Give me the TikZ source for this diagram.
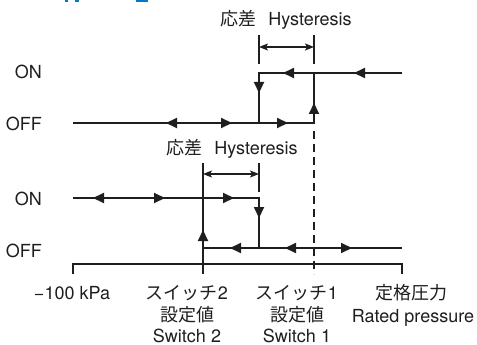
\documentclass[tikz,border=0pt]{standalone}
\usepackage{fontspec}
\setmainfont{TeX Gyre Heros}
\newfontfamily\jp{Noto Sans CJK JP}
\usetikzlibrary{arrows.meta}
\definecolor{ink}{RGB}{30,30,30}
\definecolor{titleblue}{RGB}{0,122,200}
\begin{document}
\begin{tikzpicture}[x=1pt,y=-1pt,
  main/.style={line width=2pt, draw=ink, line join=miter},
  guide/.style={line width=1.2pt, draw=ink},
  tri/.style={main, -{Triangle[length=11pt,width=10pt]}},
  span/.style={guide, {Stealth[length=9pt,width=7pt,inset=2pt]}-{Stealth[length=9pt,width=7pt,inset=2pt]}},
  lab/.style={inner sep=0pt, text=ink, font=\fontsize{18}{22}\selectfont}]
\useasboundingbox (0,0) rectangle (477,345);
% cut-off title fragments
\fill[titleblue] (65,0) rectangle (68,2.5);
\fill[titleblue] (75,0) rectangle (79,2.5);
\fill[titleblue] (136,0) rectangle (148,2.5);

% ---------- switch 1 (top) ----------
\coordinate (a0) at (73,123);
\coordinate (a1) at (259,123);
\coordinate (a2) at (314,123);
\coordinate (a3) at (259,73);
\coordinate (a4) at (314,73);
\coordinate (a5) at (402,73);
\draw[main] (a0) -- (a2) -- (a4);
\draw[main] (a1) -- (a3) -- (a5);
% arrows top
\draw[tri] (177,123) -- (166,123);
\draw[tri] (221,123) -- (232,123);
\draw[tri] (277,123) -- (288,123);
\draw[tri] (294,73) -- (283,73);
\draw[tri] (365,73) -- (354,73);
\draw[tri] (259,82) -- (259,93);
\draw[tri] (314,114) -- (314,103);
% hysteresis bracket top
\coordinate (ha0) at (259,35); \coordinate (ha1) at (259,64);
\coordinate (hb0) at (314,35); \coordinate (hb1) at (314,64);
\draw[guide] (ha0) -- (ha1);
\draw[guide] (hb0) -- (hb1);
\coordinate (hs0) at (259,47); \coordinate (hs1) at (314,47);
\draw[span] (hs0) -- (hs1);
\node[lab, anchor=base] (hl1) at (286,26) {{\jp 応差}\hspace{12pt}Hysteresis};

% ---------- switch 2 (middle) ----------
\coordinate (b0) at (73,198);
\coordinate (b1) at (203,198);
\coordinate (b2) at (259,198);
\coordinate (b3) at (203,248);
\coordinate (b4) at (259,248);
\coordinate (b5) at (402,248);
\draw[main] (b0) -- (b2) -- (b4);
\draw[main] (b1) -- (b3) -- (b5);
% arrows middle
\draw[tri] (104,198) -- (93,198);
\draw[tri] (154,198) -- (165,198);
\draw[tri] (223,198) -- (234,198);
\draw[tri] (259,207) -- (259,218);
\draw[tri] (203,241) -- (203,230);
\draw[tri] (241,248) -- (230,248);
\draw[tri] (296,248) -- (285,248);
\draw[tri] (341,248) -- (352,248);
% hysteresis bracket middle
\coordinate (hc0) at (203,163); \coordinate (hc1) at (203,274);
\coordinate (hd0) at (259,163); \coordinate (hd1) at (259,192);
\draw[guide] (hc0) -- (hc1);
\draw[guide] (hd0) -- (hd1);
\coordinate (ht0) at (203,174); \coordinate (ht1) at (259,174);
\draw[span] (ht0) -- (ht1);
\node[lab, anchor=base] (hl2) at (232,154) {{\jp 応差}\hspace{12pt}Hysteresis};

% dashed set point line of switch 1
\coordinate (d0) at (314,131); \coordinate (d1) at (314,274);
\draw[guide, dash pattern=on 8pt off 5pt] (d0) -- (d1);

% ---------- axis ----------
\coordinate (x0) at (73,274);
\coordinate (x1) at (73,264);
\coordinate (x2) at (402,264);
\coordinate (x3) at (402,274);
\draw[main, line width=1.9pt] (x0) -- (x1) -- (x2) -- (x3);

% ---------- state labels ----------
\node[lab, anchor=base east] (on1) at (42,79) {ON};
\node[lab, anchor=base east] (off1) at (42,131) {OFF};
\node[lab, anchor=base east] (on2) at (42,205) {ON};
\node[lab, anchor=base east] (off2) at (42,257) {OFF};

% ---------- axis labels ----------
\node[lab, anchor=base] (t0) at (72,299) {−100 kPa};
\node[lab, anchor=base] (s2a) at (187,299) {{\jp スイッチ}2};
\node[lab, anchor=base] (s2b) at (187,321) {\jp 設定値};
\node[lab, anchor=base] (s2c) at (187,342.5) {Switch 2};
\node[lab, anchor=base] (s1a) at (297,299) {{\jp スイッチ}1};
\node[lab, anchor=base] (s1b) at (297,321) {\jp 設定値};
\node[lab, anchor=base] (s1c) at (297,342.5) {Switch 1};
\node[lab, anchor=base] (r1) at (411,299) {\jp 定格圧力};
\node[lab, anchor=base] (r2) at (413,322) {Rated pressure};
\end{tikzpicture}
\end{document}
